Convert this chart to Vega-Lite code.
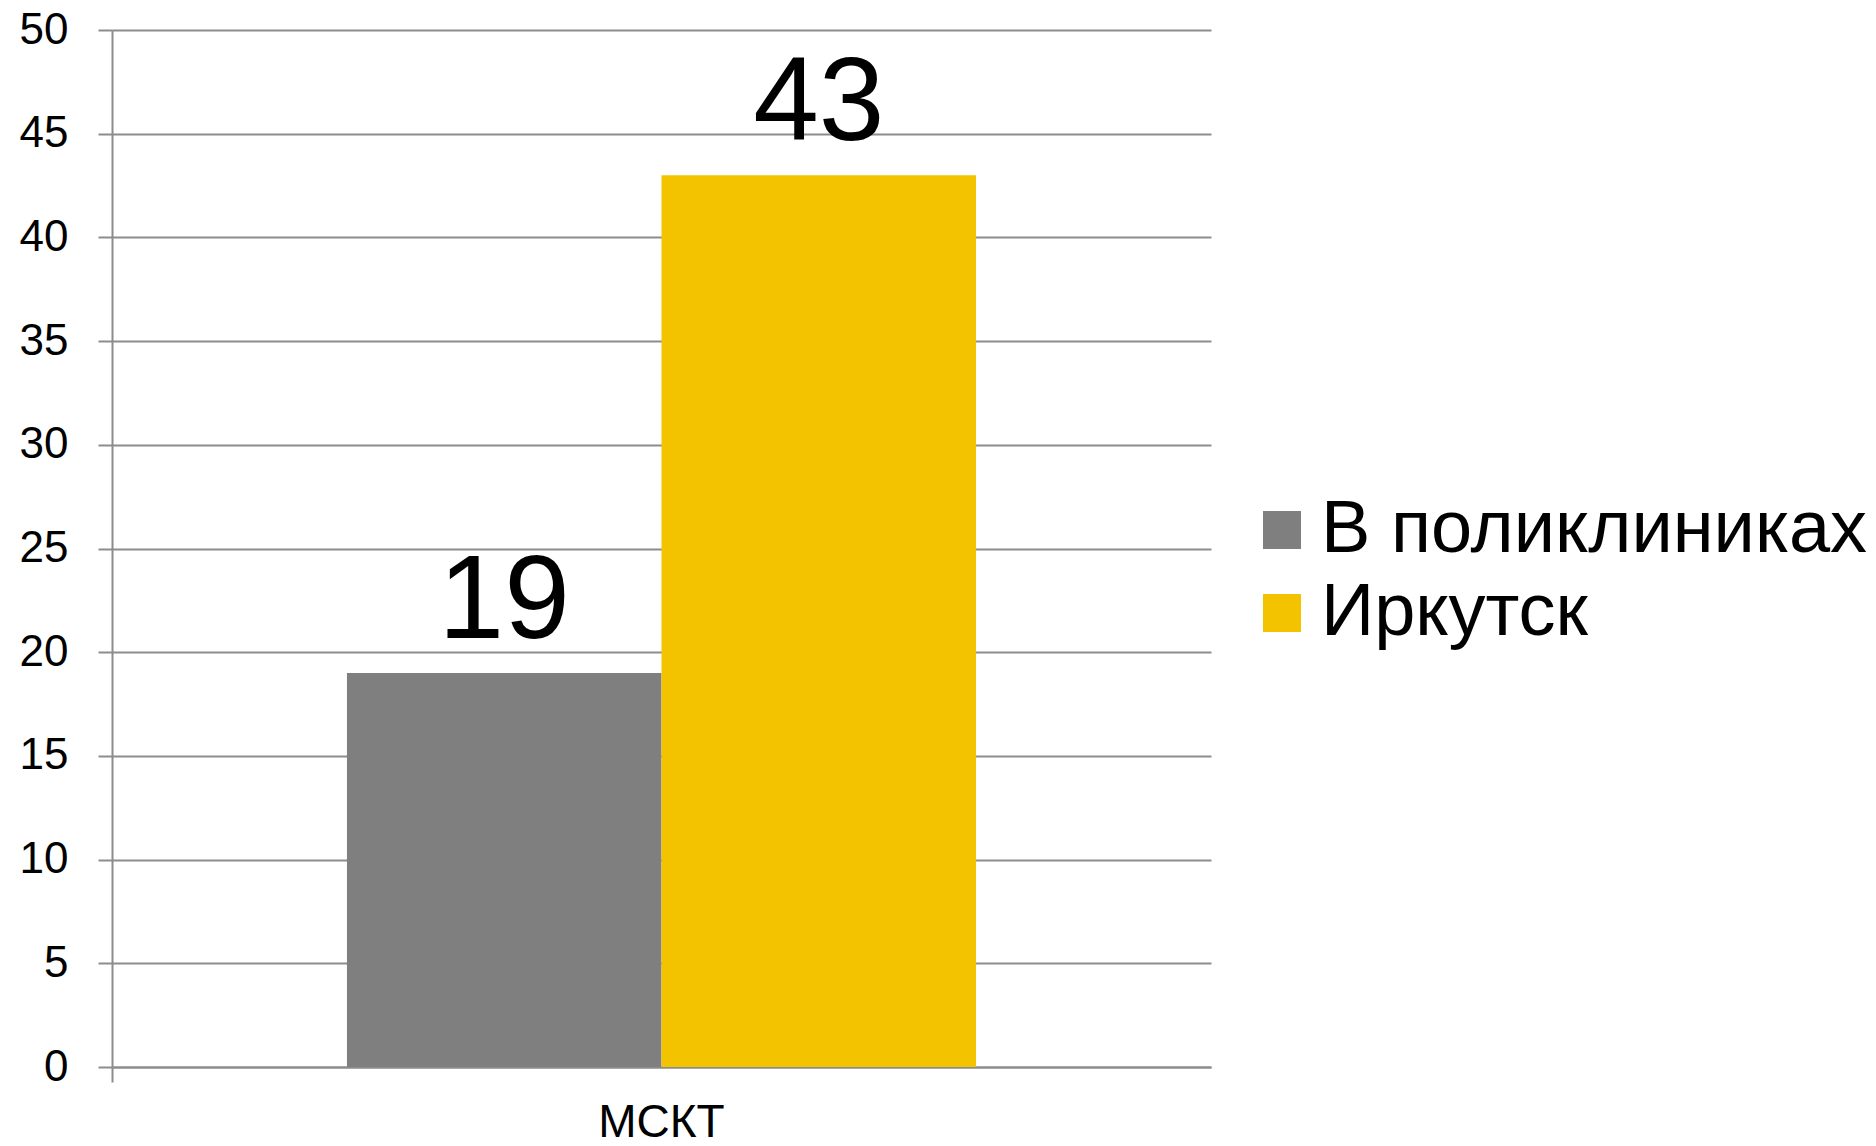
{
  "$schema": "https://vega.github.io/schema/vega-lite/v6.json",
  "autosize": {"type": "none"},
  "width": 1099,
  "height": 1037,
  "padding": {"left": 112, "top": 30, "right": 665, "bottom": 79},
  "background": "white",
  "config": {
    "font": "Liberation Sans",
    "view": {"stroke": null}
  },
  "data": {
    "values": [
      {"category": "МСКТ", "series": "В поликлиниках", "value": 19},
      {"category": "МСКТ", "series": "Иркутск", "value": 43}
    ]
  },
  "encoding": {
    "x": {
      "field": "category",
      "type": "nominal",
      "scale": {"paddingInner": 0, "paddingOuter": 0},
      "axis": {
        "title": null,
        "labelAngle": 0,
        "labelFontSize": 46,
        "labelColor": "#000000",
        "labelPadding": 18,
        "domainColor": "#8c8c8c",
        "domainWidth": 2,
        "tickColor": "#8c8c8c",
        "tickWidth": 2,
        "tickSize": 15,
        "bandPosition": 0
      }
    },
    "xOffset": {
      "field": "series",
      "type": "nominal",
      "sort": ["В поликлиниках", "Иркутск"],
      "scale": {"paddingInner": 0, "paddingOuter": 0.747}
    },
    "y": {
      "field": "value",
      "type": "quantitative",
      "scale": {"domain": [0, 50]},
      "axis": {
        "title": null,
        "values": [0, 5, 10, 15, 20, 25, 30, 35, 40, 45, 50],
        "labelFontSize": 44,
        "labelColor": "#000000",
        "labelPadding": 30,
        "tickSize": 14,
        "tickColor": "#8c8c8c",
        "tickWidth": 2,
        "domainColor": "#8c8c8c",
        "domainWidth": 2,
        "gridColor": "#8c8c8c",
        "gridWidth": 2
      }
    }
  },
  "layer": [
    {
      "mark": {"type": "bar"},
      "encoding": {
        "color": {
          "field": "series",
          "type": "nominal",
          "scale": {"domain": ["В поликлиниках", "Иркутск"], "range": ["#7f7f7f", "#f3c300"]},
          "legend": {
            "title": null,
            "orient": "none",
            "legendX": 1133,
            "legendY": 463,
            "symbolType": "square",
            "symbolSize": 1444,
            "symbolStrokeWidth": 0,
            "labelFontSize": 74,
            "labelColor": "#000000",
            "labelOffset": 2,
            "rowPadding": 9,
            "labelLimit": 800
          }
        }
      }
    },
    {
      "mark": {"type": "text", "fontSize": 118, "dy": -35, "baseline": "alphabetic", "color": "#000000"},
      "encoding": {
        "text": {"field": "value", "type": "quantitative"}
      }
    }
  ]
}
